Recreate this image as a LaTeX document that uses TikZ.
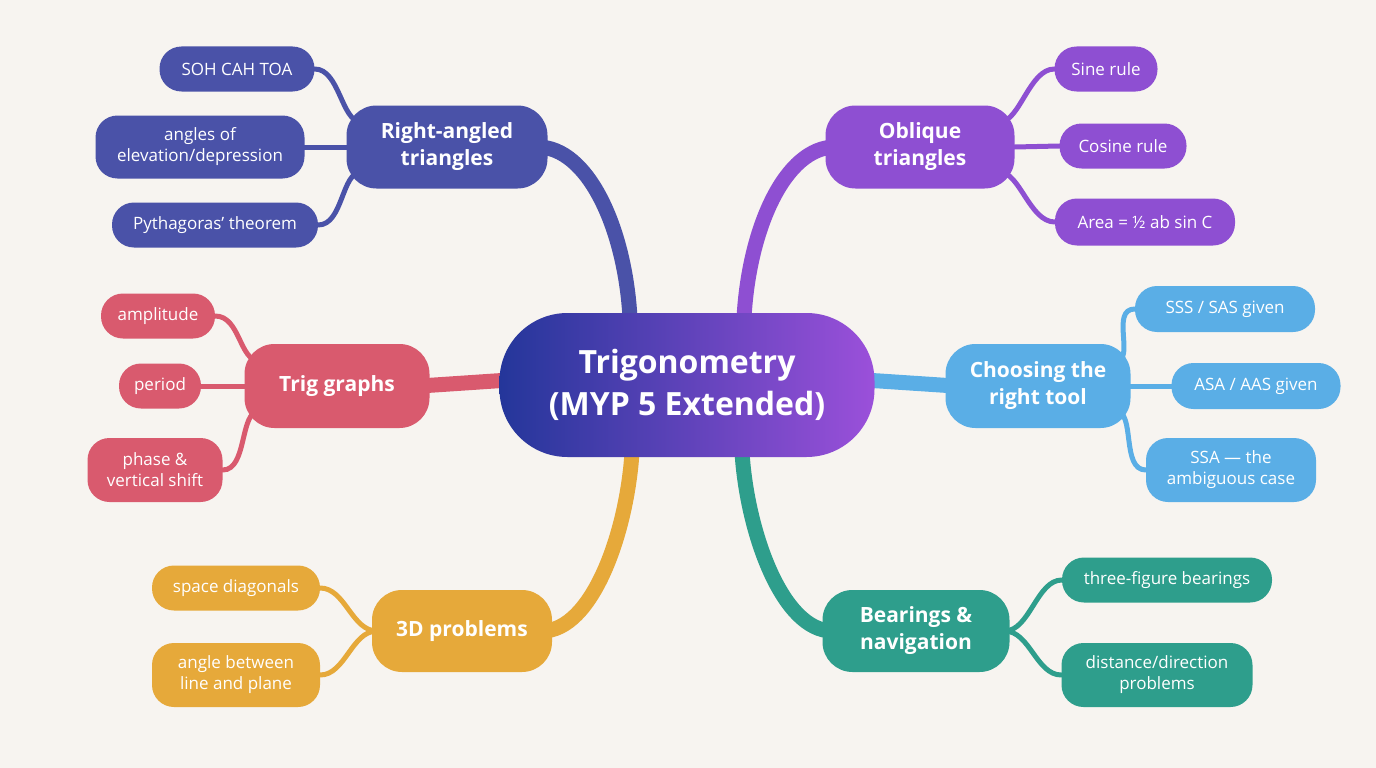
\documentclass[tikz,border=0pt]{standalone}
\usepackage{fontspec}
\setmainfont{Open Sans}
\usetikzlibrary{calc}
\definecolor{bgc}{HTML}{F7F4F0}
\definecolor{cInd}{HTML}{4A52A8}
\definecolor{cPur}{HTML}{8E4FD2}
\definecolor{cPink}{HTML}{D95A6E}
\definecolor{cSky}{HTML}{5AAEE6}
\definecolor{cYel}{HTML}{E6A93A}
\definecolor{cTeal}{HTML}{2E9E8C}
\definecolor{cBlue}{HTML}{24369A}
\definecolor{cVio}{HTML}{9B50DA}
\pgfdeclarelayer{bg}\pgfdeclarelayer{conn}
\pgfsetlayers{bg,conn,main}
\tikzset{
 box/.style={fill=#1,text=white,rounded corners=22pt,align=center,inner sep=0pt,font=\fontsize{17}{21}\selectfont},
 mainb/.style={fill=#1,text=white,rounded corners=30pt,align=center,inner sep=0pt,font=\bfseries\fontsize{21}{27}\selectfont},
 sz/.style 2 args={minimum width=#1,minimum height=#2},
 br/.style={draw=#1,line width=15pt,line cap=round},
 sb/.style={draw=#1,line width=5pt,line cap=round}
}
\begin{document}
\begin{tikzpicture}[x=1pt,y=-1pt]
\begin{pgfonlayer}{bg}
\fill[bgc] (0,0) rectangle (1376,768);
\end{pgfonlayer}
\useasboundingbox (0,0) rectangle (1376,768);
% center
\node[shading=axis,left color=cBlue,right color=cVio,shading angle=90,rounded corners=68pt,text=white,align=center,font=\bfseries\fontsize{32}{42}\selectfont,sz={375pt}{144pt},inner sep=0pt] (c) at (687,385) {Trigonometry\\(MYP 5 Extended)};
% main nodes
\node[mainb=cInd,sz={201pt}{83pt}] (rat) at (447,147) {Right-angled\\triangles};
\node[mainb=cPur,sz={189pt}{83pt}] (obl) at (920,147) {Oblique\\triangles};
\node[mainb=cPink,sz={185pt}{84pt}] (tg) at (337,386) {Trig graphs};
\node[mainb=cSky,sz={185pt}{84pt}] (cho) at (1038,386) {Choosing the\\right tool};
\node[mainb=cYel,sz={180pt}{82pt}] (thd) at (462,631) {3D problems};
\node[mainb=cTeal,sz={187pt}{82pt}] (bea) at (916,631) {Bearings \&\\navigation};
% subs
\node[box=cInd,sz={155pt}{45pt}] (soh) at (237,69) {SOH CAH TOA};
\node[box=cInd,sz={209pt}{63pt}] (ang) at (200,147) {angles of\\elevation/depression};
\node[box=cInd,sz={206pt}{45pt}] (pyt) at (215,225) {Pythagoras’ theorem};
\node[box=cPur,sz={103pt}{45pt}] (sin) at (1106,69) {Sine rule};
\node[box=cPur,sz={127pt}{45pt}] (cos) at (1123,146) {Cosine rule};
\node[box=cPur,sz={180pt}{47pt}] (are) at (1145,222) {Area = ½ ab sin C};
\node[box=cPink,sz={114pt}{45pt}] (amp) at (158,316) {amplitude};
\node[box=cPink,sz={82pt}{45pt}] (per) at (160,386) {period};
\node[box=cPink,sz={135pt}{64pt}] (pha) at (155,470) {phase \&\\vertical shift};
\node[box=cSky,sz={180pt}{46pt}] (sss) at (1225,309) {SSS / SAS given};
\node[box=cSky,sz={169pt}{46pt}] (asa) at (1256,386) {ASA / AAS given};
\node[box=cSky,sz={170pt}{64pt}] (ssa) at (1231,470) {SSA — the\\ambiguous case};
\node[box=cYel,sz={168pt}{45pt}] (spd) at (236,588) {space diagonals};
\node[box=cYel,sz={168pt}{64pt}] (abl) at (236,675) {angle between\\line and plane};
\node[box=cTeal,sz={210pt}{45pt}] (tfb) at (1167,580) {three-figure bearings};
\node[box=cTeal,sz={191pt}{64pt}] (ddp) at (1157,675) {distance/direction\\problems};
\begin{pgfonlayer}{conn}
% branches
\draw[br=cInd] ($(rat.east)+(-10,0)$) .. controls +(50,0) and +(-5,-90) .. ($(c.north)+(-57,5)$);
\draw[br=cPur] ($(obl.west)+(10,0)$) .. controls +(-50,0) and +(5,-90) .. ($(c.north)+(57,5)$);
\draw[br=cPink] ($(tg.east)+(-10,0)$) -- ($(c.west)+(10,-5)$);
\draw[br=cSky] ($(cho.west)+(10,0)$) -- ($(c.east)+(-10,-5)$);
\draw[br=cYel] ($(thd.east)+(-10,0)$) .. controls +(50,0) and +(-5,80) .. ($(c.south)+(-55,-5)$);
\draw[br=cTeal] ($(bea.west)+(10,0)$) .. controls +(-50,0) and +(5,80) .. ($(c.south)+(55,-5)$);
% subs
\draw[sb=cInd] ($(rat.west)+(15,-25)$) .. controls +(-20,0) and +(25,0) .. (soh.east);
\draw[sb=cInd] (rat.west) -- (ang.east);
\draw[sb=cInd] ($(rat.west)+(15,25)$) .. controls +(-20,0) and +(25,0) .. (pyt.east);
\draw[sb=cPur] ($(obl.east)+(-15,-25)$) .. controls +(20,0) and +(-25,0) .. (sin.west);
\draw[sb=cPur] (obl.east) -- (cos.west);
\draw[sb=cPur] ($(obl.east)+(-15,25)$) .. controls +(20,0) and +(-25,0) .. (are.west);
\draw[sb=cPink] ($(tg.west)+(15,-25)$) .. controls +(-20,0) and +(25,0) .. (amp.east);
\draw[sb=cPink] (tg.west) -- (per.east);
\draw[sb=cPink] ($(tg.west)+(15,25)$) .. controls +(-20,0) and +(25,0) .. (pha.east);
\draw[sb=cSky] ($(cho.east)+(-15,-25)$) .. controls +(20,0) and +(-25,0) .. (sss.west);
\draw[sb=cSky] (cho.east) -- (asa.west);
\draw[sb=cSky] ($(cho.east)+(-15,25)$) .. controls +(20,0) and +(-25,0) .. (ssa.west);
\draw[sb=cYel] ($(thd.west)+(5,0)$) .. controls +(-25,0) and +(25,0) .. (spd.east);
\draw[sb=cYel] ($(thd.west)+(5,0)$) .. controls +(-25,0) and +(25,0) .. (abl.east);
\draw[sb=cTeal] ($(bea.east)+(-5,0)$) .. controls +(25,0) and +(-25,0) .. (tfb.west);
\draw[sb=cTeal] ($(bea.east)+(-5,0)$) .. controls +(25,0) and +(-25,0) .. (ddp.west);
\end{pgfonlayer}
\end{tikzpicture}
\end{document}
